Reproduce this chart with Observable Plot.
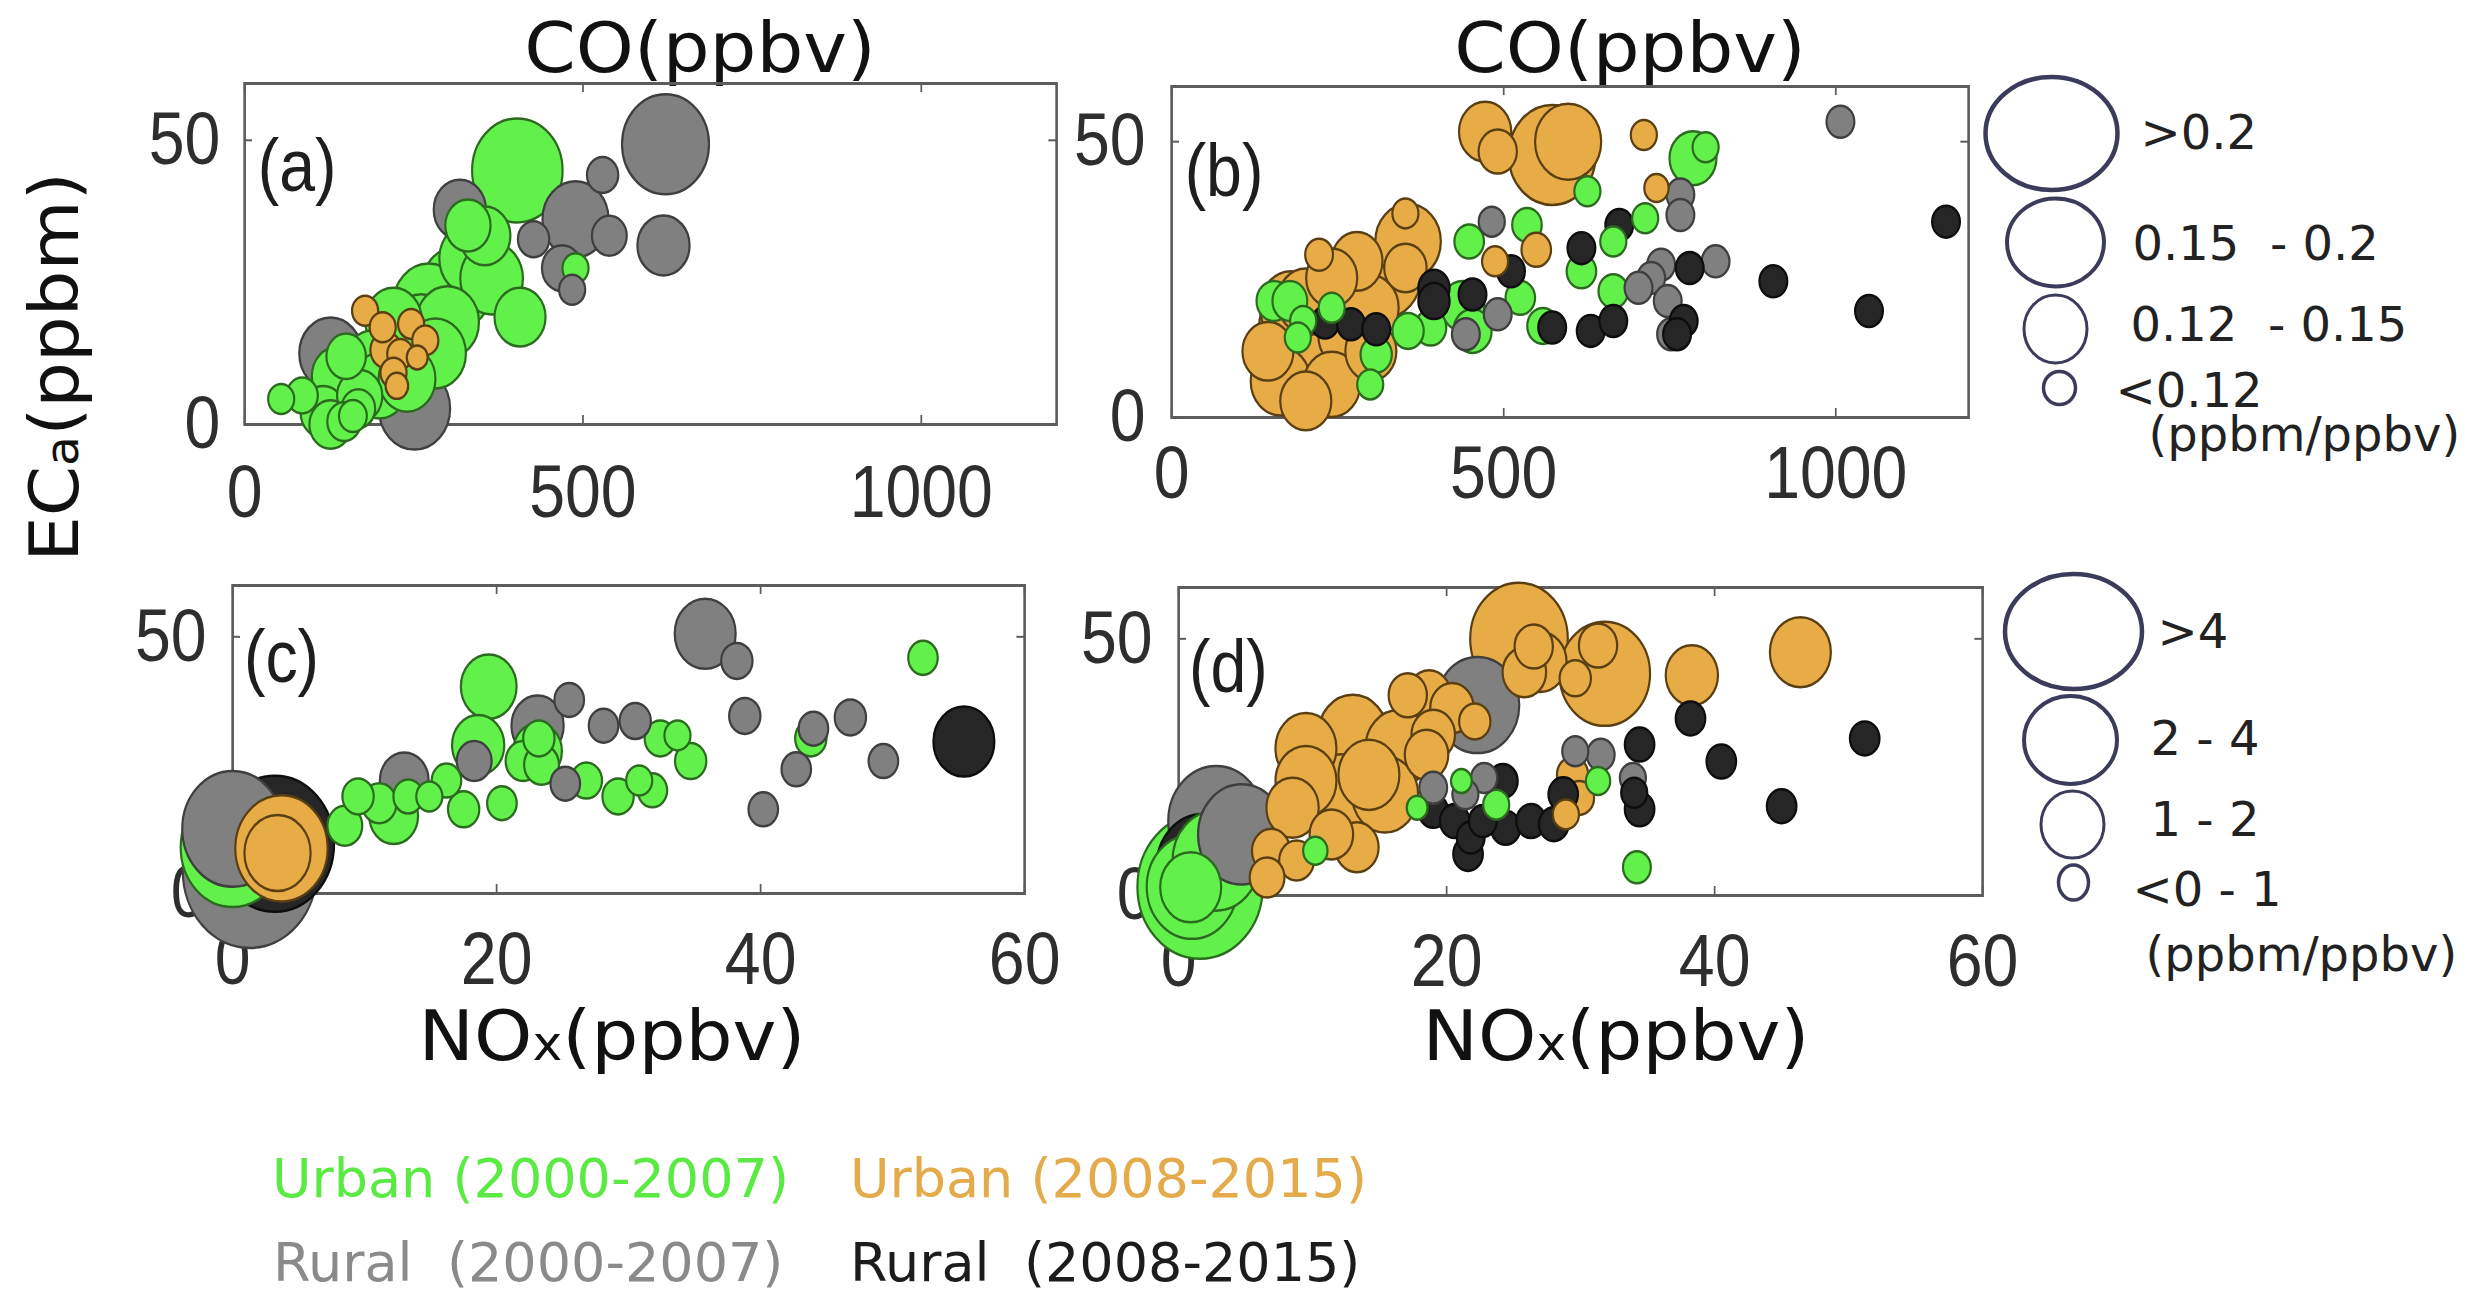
<!DOCTYPE html>
<html>
<head>
<meta charset="utf-8">
<script src="https://cdn.jsdelivr.net/npm/d3@7"></script>
<script src="https://cdn.jsdelivr.net/npm/@observablehq/plot@0.6"></script>
<style>
  html, body { margin: 0; padding: 0; background: #fff; }
  #fig { position: relative; width: 2474px; height: 1297px; overflow: hidden; background: #fff; }
  #fig svg { position: absolute; max-width: none; overflow: visible; background: transparent; }
  #fig text { white-space: pre; }
</style>
</head>
<body>
<div id="fig"></div>
<script>
// ---------- tick values ----------
const coTicks = [0, 500, 1000];
const noxTicks = [0, 20, 40, 60];
const ecTicks = [0, 50];

// ---------- series ----------
const seriesNames = ["Urban (2000-2007)", "Urban (2008-2015)", "Rural  (2000-2007)", "Rural  (2008-2015)"];

// Each point: [x, ECa (ppbm), ratio (ppbm/ppbv)]
// (a) CO vs ECa
const aUrban0007 = [
  [403, 44.7, 0.208], [489, 27.5, 0.097], [355, 33.2, 0.140], [334, 29.2, 0.160],
  [313, 24.0, 0.175], [272, 21.1, 0.175], [261, 16.6, 0.160], [220, 18.3, 0.150],
  [407, 18.9, 0.140], [365, 25.7, 0.160], [282, 12.5, 0.157], [189, 10.8, 0.150],
  [137, 8.5, 0.140], [85, 5.1, 0.106], [54, 4.5, 0.097], [168, 2.8, 0.110],
  [116, 2.2, 0.130], [199, 6.8, 0.150], [147, 0.5, 0.110], [127, 0.0, 0.125],
  [240, 8.0, 0.150], [300, 18.0, 0.160], [170, 5.0, 0.130], [150, 12.0, 0.120],
  [330, 35.0, 0.130], [160, 1.5, 0.100]
];
const aRural0007 = [
  [622, 49.3, 0.202], [529, 43.9, 0.106], [318, 37.8, 0.142], [489, 36.1, 0.166],
  [539, 33.2, 0.112], [619, 31.5, 0.142], [427, 32.6, 0.106], [469, 27.5, 0.121],
  [484, 23.7, 0.097], [251, 2.8, 0.175], [127, 12.5, 0.160]
];
const aUrban0815 = [
  [178, 20.0, 0.097], [204, 17.1, 0.097], [246, 17.7, 0.097], [267, 14.8, 0.097],
  [209, 13.1, 0.106], [230, 12.4, 0.097], [255, 11.8, 0.088], [220, 9.1, 0.097],
  [225, 6.8, 0.091]
];
const aRural0815 = [];

// (b) CO vs ECa
const bUrban0007 = [
  [785, 47.0, 0.133], [804, 49.0, 0.097], [626, 41.0, 0.097], [713, 36.1, 0.097],
  [665, 31.9, 0.097], [535, 34.9, 0.103], [448, 31.9, 0.103], [617, 26.5, 0.103],
  [665, 22.9, 0.103], [525, 21.7, 0.103], [438, 20.2, 0.127], [390, 16.3, 0.106],
  [356, 15.7, 0.106], [559, 16.6, 0.106], [453, 15.7, 0.118], [308, 11.4, 0.106],
  [299, 6.0, 0.097], [154, 21.1, 0.112], [178, 21.1, 0.112], [198, 17.5, 0.097],
  [190, 14.5, 0.097], [241, 19.9, 0.097]
];
const bRural0007 = [
  [1007, 53.6, 0.100], [766, 40.4, 0.100], [766, 36.7, 0.100], [737, 27.7, 0.100],
  [722, 25.3, 0.100], [703, 23.5, 0.100], [819, 28.3, 0.100], [747, 21.1, 0.100],
  [752, 15.1, 0.100], [482, 35.5, 0.097], [443, 15.1, 0.100], [491, 18.7, 0.100]
];
const bUrban0815 = [
  [573, 47.6, 0.202], [472, 51.8, 0.142], [491, 48.2, 0.118], [597, 50.0, 0.166],
  [711, 51.2, 0.097], [730, 41.6, 0.094], [549, 30.4, 0.103], [352, 37.0, 0.097],
  [356, 31.9, 0.165], [323, 25.3, 0.170], [279, 28.3, 0.140], [241, 25.3, 0.140],
  [260, 22.3, 0.160], [202, 21.1, 0.150], [183, 16.3, 0.170], [198, 10.2, 0.180],
  [231, 12.0, 0.180], [270, 15.1, 0.165], [299, 19.9, 0.150], [145, 12.0, 0.140],
  [164, 6.6, 0.155], [202, 3.0, 0.140], [241, 6.0, 0.150], [222, 29.5, 0.100],
  [352, 27.1, 0.125], [487, 28.3, 0.097], [180, 20.0, 0.160], [250, 18.0, 0.170],
  [220, 8.0, 0.170], [300, 12.0, 0.140]
];
const bRural0815 = [
  [1166, 35.5, 0.100], [906, 24.7, 0.100], [1050, 19.3, 0.100], [780, 27.1, 0.100],
  [771, 17.5, 0.100], [761, 15.1, 0.100], [674, 34.9, 0.100], [617, 30.7, 0.100],
  [511, 26.5, 0.100], [453, 22.3, 0.100], [395, 23.5, 0.106], [395, 21.1, 0.106],
  [573, 16.3, 0.100], [631, 15.7, 0.100], [665, 17.5, 0.100], [231, 17.2, 0.100],
  [270, 16.9, 0.100], [308, 16.0, 0.100]
];

// (c) NOx vs ECa
const cUrban0007 = [
  [52.3, 45.9, 0.61], [19.4, 40.3, 2.26], [18.6, 28.9, 2.04], [23.1, 27.7, 1.82],
  [23.2, 30.2, 0.72], [22.0, 25.8, 0.94], [23.4, 25.1, 0.94], [26.8, 22.0, 0.72],
  [32.4, 30.2, 0.72], [33.7, 30.8, 0.39], [34.7, 25.8, 0.72], [29.2, 18.9, 0.72],
  [30.8, 22.0, 0.39], [31.8, 20.1, 0.61], [43.8, 30.2, 0.72], [20.4, 17.6, 0.61],
  [17.5, 16.4, 0.72], [16.2, 22.0, 0.61], [14.9, 18.9, 0.39], [12.2, 15.1, 1.82],
  [11.1, 17.6, 0.94], [9.5, 18.9, 0.72], [8.5, 13.2, 0.94], [13.3, 18.9, 0.61],
  [0.0, 9.0, 5.30]
];
const cRural0007 = [
  [1.3, 4.4, 7.20], [0.0, 12.6, 5.10], [35.8, 50.6, 2.59], [38.2, 45.3, 0.72],
  [38.8, 34.6, 0.72], [46.8, 34.3, 0.72], [44.0, 32.1, 0.61], [42.7, 24.2, 0.61],
  [49.3, 25.8, 0.61], [40.2, 16.4, 0.61], [30.5, 33.6, 0.72], [28.1, 32.7, 0.61],
  [25.5, 37.7, 0.61], [23.1, 32.7, 2.04], [18.3, 25.8, 0.94], [13.0, 22.0, 1.82],
  [25.2, 21.4, 0.61]
];
const cUrban0815 = [[3.7, 8.8, 4.57], [3.4, 7.9, 2.92]];
const cRural0815 = [[55.4, 29.6, 2.59], [3.2, 9.7, 6.21]];

// (d) NOx vs ECa
const dUrban0007 = [
  [34.2, 5.5, 0.50], [23.7, 17.7, 0.39], [31.3, 22.3, 0.28], [21.1, 22.3, 0.06],
  [17.8, 17.1, 0.06], [10.2, 8.7, 0.28], [1.6, 1.7, 6.65], [1.0, 1.7, 4.46],
  [0.9, 1.6, 2.59], [2.8, 6.8, 4.24]
];
const dRural0007 = [
  [22.3, 37.1, 4.02], [29.6, 28.1, 0.39], [31.5, 27.4, 0.50], [33.9, 22.9, 0.39],
  [22.8, 22.9, 0.39], [19.0, 21.0, 0.50], [21.4, 19.7, 0.39], [2.8, 14.5, 4.79],
  [4.7, 11.9, 4.24]
];
const dUrban0815 = [
  [25.4, 50.0, 4.90], [31.8, 43.2, 4.46], [31.3, 48.7, 1.16], [27.0, 45.5, 2.04],
  [38.3, 42.9, 2.04], [46.4, 47.4, 2.59], [29.6, 42.3, 0.72], [26.5, 48.5, 1.16],
  [25.8, 43.5, 1.49], [18.7, 39.0, 1.49], [20.4, 36.5, 1.49], [22.1, 33.9, 0.72],
  [17.1, 39.0, 1.16], [16.4, 28.7, 2.92], [13.0, 31.3, 3.14], [9.5, 28.7, 2.59],
  [15.4, 19.7, 2.92], [12.1, 19.7, 3.14], [9.5, 22.3, 2.59], [8.5, 17.1, 2.04],
  [13.3, 9.4, 1.49], [11.4, 11.9, 1.49], [14.2, 23.5, 2.59], [19.0, 31.3, 1.49],
  [18.5, 27.4, 1.49], [6.9, 8.7, 1.16], [8.8, 6.8, 0.94], [6.6, 3.5, 0.94],
  [29.4, 23.5, 0.72], [29.9, 19.0, 0.61], [28.9, 15.8, 0.39]
];
const dRural0815 = [
  [38.2, 34.5, 0.61], [51.2, 30.6, 0.61], [40.5, 26.1, 0.61], [45.0, 17.4, 0.61],
  [34.4, 29.4, 0.61], [34.4, 16.8, 0.61], [34.0, 20.0, 0.39], [21.6, 8.1, 0.61],
  [21.8, 11.3, 0.50], [19.0, 16.5, 0.61], [20.6, 14.5, 0.61], [24.4, 13.2, 0.61],
  [26.3, 14.5, 0.61], [28.0, 13.9, 0.61], [24.2, 22.3, 0.61], [28.7, 19.7, 0.61],
  [22.7, 14.5, 0.50], [1.8, 5.5, 4.60]
];

// ---------- size legend labels ----------
const coRatioClasses = [">0.2", "0.15  - 0.2", "0.12  - 0.15", "<0.12"];
const noxRatioClasses = [">4", "2 - 4", "1 - 2", "<0 - 1"];
const ratioUnit = "(ppbm/ppbv)";

// ---------- styles ----------
const seriesStyle = {
  ue: {fill: "#62f04b", stroke: "#2c6a1f"},   // urban 2000-2007
  ul: {fill: "#e8ac47", stroke: "#5a3f12"},   // urban 2008-2015
  re: {fill: "#808080", stroke: "#3f3f3f"},   // rural 2000-2007
  rl: {fill: "#262626", stroke: "#0d0d0d"}    // rural 2008-2015
};
const legendTextColors = ["#5bea44", "#e3ab4a", "#8a8a8a", "#1c1c1c"];
const K = 0.87; // horizontal squeeze applied to the scatter panels

const fig = document.getElementById("fig");

function rows(arr, s) { return arr.map(([x, y, v]) => ({x, y, v, s})); }

function panel({parts, frame, xDomain, xTicks, label, labelDx, labelDy, padX, padY, rScale}) {
  const [fl, ft, fr, fb] = frame;
  const fw = (fr - fl) / K, fh = fb - ft;
  const mL = 160, mR = 80, mT = 110, mB = 150;
  const pts = parts.flat().sort((a, b) => b.v - a.v);
  const tickLen = 9;
  const svg = Plot.plot({
    width: mL + fw + mR, height: mT + fh + mB,
    marginLeft: mL, marginRight: mR, marginTop: mT, marginBottom: mB,
    style: {fontFamily: "'Liberation Sans', Arial, sans-serif", color: "#2e2e2e", background: "transparent", overflow: "visible"},
    x: {domain: xDomain},
    y: {domain: [0, 60]},
    r: {type: "linear", domain: rScale.domain, range: rScale.range},
    color: {type: "identity"},
    marks: [
      Plot.axisX(xTicks, {anchor: "bottom", tickSize: 0, tickPadding: padX, fontSize: 74, label: null, tickFormat: d => String(d)}),
      Plot.axisY(ecTicks, {anchor: "left", tickSize: 0, tickPadding: padY, fontSize: 74, label: null, tickFormat: d => String(d)}),
      Plot.frame({stroke: "#5c5c5c", strokeWidth: 3}),
      Plot.tickX(xTicks, {x: d => d, insetTop: fh - tickLen, stroke: "#5c5c5c", strokeWidth: 2}),
      Plot.tickX(xTicks, {x: d => d, insetBottom: fh - tickLen, stroke: "#5c5c5c", strokeWidth: 2}),
      Plot.tickY(ecTicks, {y: d => d, insetRight: fw - tickLen, stroke: "#5c5c5c", strokeWidth: 2}),
      Plot.tickY(ecTicks, {y: d => d, insetLeft: fw - tickLen, stroke: "#5c5c5c", strokeWidth: 2}),
      Plot.dot(pts, {
        x: "x", y: "y", r: "v",
        fill: d => seriesStyle[d.s].fill,
        stroke: d => seriesStyle[d.s].stroke,
        strokeWidth: 2.5
      }),
      Plot.text([label], {frameAnchor: "top-left", text: d => d, dx: labelDx, dy: labelDy, textAnchor: "start", fontSize: 74, fill: "#1e1e1e"})
    ]
  });
  svg.style.left = (fl - K * mL) + "px";
  svg.style.top = (ft - mT) + "px";
  svg.style.transformOrigin = "0 0";
  svg.style.transform = `scaleX(${K})`;
  svg.style.overflow = "visible";
  svg.style.background = "transparent";
  fig.appendChild(svg);
}

// ---------- titles and series legend ----------
const overlay = d3.select(fig).append("svg")
  .attr("width", 2474).attr("height", 1297)
  .style("left", "0px").style("top", "0px")
  .attr("font-family", "'DejaVu Sans', Verdana, sans-serif");

function title(cx, base, parts, size, stretch, rotate = false) {
  const t = overlay.append("text")
    .attr("text-anchor", "middle")
    .attr("font-size", size)
    .attr("fill", "#111")
    .attr("transform", rotate
      ? `translate(${cx},${base}) rotate(-90) scale(${stretch},1)`
      : `translate(${cx},${base}) scale(${stretch},1)`);
  parts.forEach(([s, small]) => t.append("tspan").attr("font-size", small ? size * 0.68 : size).text(s));
}
title(700, 72, [["CO(ppbv)"]], 69, 1.07);
title(1630, 72, [["CO(ppbv)"]], 69, 1.07);
title(612, 1060, [["NO"], ["x", true], ["(ppbv)"]], 70, 1.06);
title(1616, 1060, [["NO"], ["x", true], ["(ppbv)"]], 70, 1.06);
title(78, 367, [["EC"], ["a", true], ["(ppbm)"]], 68, 1.06, true);

const seriesPos = [[272, 1197], [850, 1197], [273, 1281], [850, 1281]];
seriesNames.forEach((name, i) => {
  overlay.append("text")
    .attr("x", seriesPos[i][0]).attr("y", seriesPos[i][1])
    .attr("font-size", 54).attr("fill", legendTextColors[i])
    .attr("xml:space", "preserve")
    .text(name);
});

// ---------- panels ----------
const coR = {domain: [0.1, 0.22], range: [16, 56]};
const noxR = {domain: [0.5, 5], range: [16, 57]};

panel({
  parts: [rows(aUrban0007, "ue"), rows(aRural0007, "re"), rows(aUrban0815, "ul"), rows(aRural0815, "rl")],
  frame: [244, 83, 1056, 424], xDomain: [0, 1200], xTicks: coTicks,
  label: "(a)", labelDx: 15, labelDy: 55, padX: 40, padY: 28, rScale: coR
});
panel({
  parts: [rows(bUrban0007, "ue"), rows(bRural0007, "re"), rows(bUrban0815, "ul"), rows(bRural0815, "rl")],
  frame: [1171, 86, 1968, 417], xDomain: [0, 1200], xTicks: coTicks,
  label: "(b)", labelDx: 15, labelDy: 57, padX: 28, padY: 30, rScale: coR
});
panel({
  parts: [rows(cUrban0007, "ue"), rows(cRural0007, "re"), rows(cUrban0815, "ul"), rows(cRural0815, "rl")],
  frame: [232, 585, 1024, 893], xDomain: [0, 60], xTicks: noxTicks,
  label: "(c)", labelDx: 13, labelDy: 44, padX: 38, padY: 30, rScale: noxR
});
panel({
  parts: [rows(dUrban0007, "ue"), rows(dRural0007, "re"), rows(dUrban0815, "ul"), rows(dRural0815, "rl")],
  frame: [1178, 587, 1982, 895], xDomain: [0, 60], xTicks: noxTicks,
  label: "(d)", labelDx: 12, labelDy: 52, padX: 38, padY: 30, rScale: noxR
});

// ---------- size legends ----------
const KAPPA = 0.5522847498;
function ellipse(aspect) {
  return {
    draw(ctx, size) {
      const ry = Math.sqrt(size / Math.PI), rx = ry * aspect;
      const ox = rx * KAPPA, oy = ry * KAPPA;
      ctx.moveTo(-rx, 0);
      ctx.bezierCurveTo(-rx, -oy, -ox, -ry, 0, -ry);
      ctx.bezierCurveTo(ox, -ry, rx, -oy, rx, 0);
      ctx.bezierCurveTo(rx, oy, ox, ry, 0, ry);
      ctx.bezierCurveTo(-ox, ry, -rx, oy, -rx, 0);
      ctx.closePath();
    }
  };
}

function sizeLegend({labels, left, top, shapes, firstTop, gap, textX, textDy, unitXY}) {
  const centres = [];
  shapes.forEach((s, i) => {
    centres.push(i === 0 ? firstTop + s.h / 2 : centres[i - 1] + shapes[i - 1].h / 2 + gap + s.h / 2);
  });
  const items = labels.map((label, i) => ({label, i}));
  const svg = Plot.plot({
    width: 480, height: 460, margin: 0,
    style: {fontFamily: "'DejaVu Sans', Verdana, sans-serif", background: "transparent", overflow: "visible"},
    x: {type: "identity", axis: null},
    y: {type: "identity", axis: null},
    marks: [
      ...items.map(d => Plot.dot([d], {
        x: () => shapes[d.i].cx, y: () => centres[d.i],
        r: shapes[d.i].h / 2, symbol: ellipse(shapes[d.i].w / shapes[d.i].h),
        fill: "none", stroke: "#3b3b5c", strokeWidth: shapes[d.i].sw
      })),
      Plot.text(items, {x: d => textX[d.i], y: d => centres[d.i] + textDy[d.i], text: "label", textAnchor: "start", fontSize: 48, fill: "#222"}),
      Plot.text([ratioUnit], {x: () => unitXY[0], y: () => unitXY[1], text: d => d, textAnchor: "start", fontSize: 48, fill: "#222"})
    ]
  });
  svg.style.left = left + "px";
  svg.style.top = top + "px";
  fig.appendChild(svg);
}

sizeLegend({
  labels: coRatioClasses, left: 1990, top: 40,
  shapes: [{w: 132, h: 113, cx: 61, sw: 4.5}, {w: 97, h: 88, cx: 65, sw: 4}, {w: 63, h: 68, cx: 65, sw: 3}, {w: 32, h: 33, cx: 69, sw: 3.5}],
  firstTop: 36.5, gap: 8.5,
  textX: [150, 142, 140, 125], textDy: [0, 2, -3, 4], unitXY: [158, 395]
});
sizeLegend({
  labels: noxRatioClasses, left: 1990, top: 540,
  shapes: [{w: 137, h: 115, cx: 83, sw: 4.5}, {w: 93, h: 88, cx: 80, sw: 4}, {w: 63, h: 67, cx: 82, sw: 3}, {w: 30, h: 35, cx: 83, sw: 3.5}],
  firstTop: 33.5, gap: 7,
  textX: [167, 160, 160, 142], textDy: [1, 0, -4, 8], unitXY: [155, 415]
});
</script>
</body>
</html>
